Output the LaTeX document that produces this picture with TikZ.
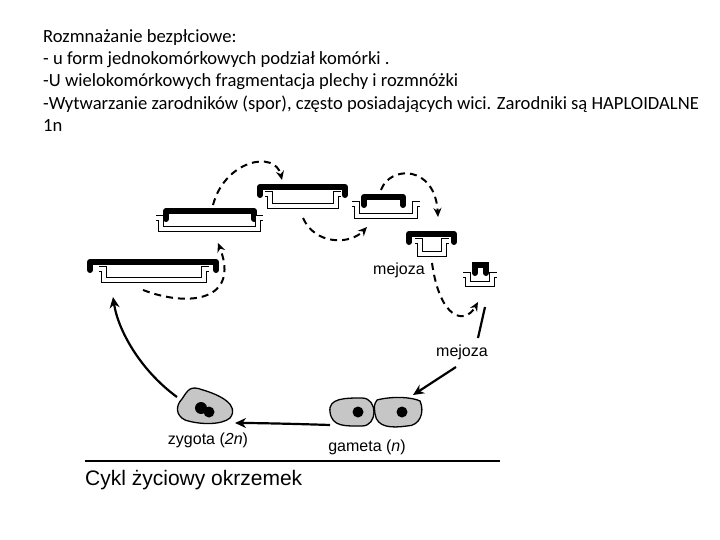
\documentclass[tikz,border=0pt]{standalone}
\usepackage{fontspec}
\setmainfont{Carlito}
\newfontfamily\arialf{Liberation Sans}
\usetikzlibrary{arrows.meta}
\begin{document}
\begin{tikzpicture}[x=1pt,y=-1pt,
  dsh/.style={line width=2pt,dash pattern=on 7pt off 5pt,-{Stealth[length=9pt,width=8pt]}},
  sol/.style={line width=2.2pt,-{Stealth[length=11pt,width=10pt]}},
  lab/.style={font=\arialf\fontsize{16}{18}\selectfont,inner sep=0pt},
  hdr/.style={anchor=west,inner sep=0pt,font=\fontsize{18.6}{21}\selectfont}]
\useasboundingbox (0,0) rectangle (720,540);
\newcommand\frust[6]{% black x1 x2 y, hyp x1 x2 depth
  \draw[line width=6pt,line cap=round,line join=round] (#1,#3+8)--(#1,#3)--(#2,#3)--(#2,#3+8);
  \draw[line width=1.3pt,double=white,double distance=3.5pt] (#4,#3+7)--(#4+5,#3+7)--(#4+5,#3+7+#6)--(#5-5,#3+7+#6)--(#5-5,#3+7)--(#5,#3+7);}
\node[hdr] (h1) at (43,38) {Rozmnażanie bezpłciowe:};
\node[hdr] (h2) at (43,60) {- u form jednokomórkowych podział komórki .};
\node[hdr] (h3) at (43,82) {-U wielokomórkowych fragmentacja plechy i rozmnóżki};
\node[hdr] (h4) at (43,104) {-Wytwarzanie zarodników (spor), często posiadających wici. Zarodniki są HAPLOIDALNE};
\node[hdr] (h5) at (43,126) {1n};
\frust{90}{216}{262}{99}{209}{11}
\frust{166}{254}{211}{156}{263}{11}
\frust{260}{345}{187}{265}{341}{12}
\frust{364}{403}{197}{352}{420}{12}
\frust{409}{454}{234}{415}{449}{13}
\draw[line width=6pt,line cap=round] (475,273)--(475,265)--(486,265)--(486,273);
\draw[line width=1.3pt,double=white,double distance=3.5pt] (463,275)--(468,275)--(468,284)--(492,284)--(492,275)--(497,275);
\coordinate (a1s) at (143,290); \coordinate (a1e) at (218,243);
\draw[dsh] (a1s) .. controls (190,308) and (240,300) .. (a1e);
\coordinate (a2s) at (213,205); \coordinate (a2e) at (282,180);
\draw[dsh] (a2s) .. controls (225,160) and (275,150) .. (a2e);
\coordinate (a3s) at (303,218); \coordinate (a3e) at (367,227);
\draw[dsh] (a3s) .. controls (315,245) and (350,245) .. (a3e);
\coordinate (a4s) at (381,190); \coordinate (a4e) at (438,217);
\draw[dsh] (a4s) .. controls (390,165) and (435,165) .. (a4e);
\coordinate (a5s) at (432,263); \coordinate (a5e) at (478,302);
\draw[dsh] (a5s) .. controls (440,320) and (465,325) .. (a5e);
\node[lab] (m1) at (399,270) {mejoza};
\node[lab] (m2) at (462,352) {mejoza};
\coordinate (s1) at (485,307); \coordinate (s2) at (478,338);
\draw[line width=2.2pt] (s1)--(s2);
\coordinate (s3) at (456,367); \coordinate (s4) at (413,395);
\draw[sol] (s3)--(s4);
% gametes
\draw[fill=gray!45,line width=1.3pt] (330,412) .. controls (328,398) and (345,398) .. (362,398) .. controls (378,398) and (378,426) .. (362,426) .. controls (345,426) and (332,427) .. (330,412);
\draw[fill=gray!45,line width=1.3pt] (377,400) .. controls (392,396) and (412,397) .. (420,401) .. controls (425,412) and (420,426) .. (407,426) .. controls (392,428) and (377,428) .. (375,414) .. controls (374,405) .. (377,400);
\fill (358,412) circle (5.5); \fill (402,412) circle (5.5);
% zygote
\draw[fill=gray!45,line width=1.3pt] (182,399) .. controls (188,390) and (190,385) .. (203,390) .. controls (220,395) and (240,405) .. (230,418) .. controls (222,425) and (200,425) .. (185,420) .. controls (175,415) and (176,405) .. (182,399);
\fill (201,408) circle (6); \fill (209,412) circle (5.5);
\coordinate (s5) at (330,425); \coordinate (s6) at (235,423);
\draw[sol] (s5) .. controls (300,424) and (260,423) .. (s6);
\coordinate (s7) at (177,397); \coordinate (s8) at (113,297);
\draw[sol] (s7) .. controls (140,370) and (118,330) .. (s8);
\node[lab] (zy) at (208,440) {zygota (\textit{2n})};
\node[lab] (ga) at (367,447) {gameta (\textit{n})};
\draw[line width=1.3pt] (85,461)--(500,461);
\node[anchor=west,inner sep=0pt,font=\arialf\fontsize{21}{23}\selectfont] (t) at (85,480) {Cykl życiowy okrzemek};
\end{tikzpicture}
\end{document}
